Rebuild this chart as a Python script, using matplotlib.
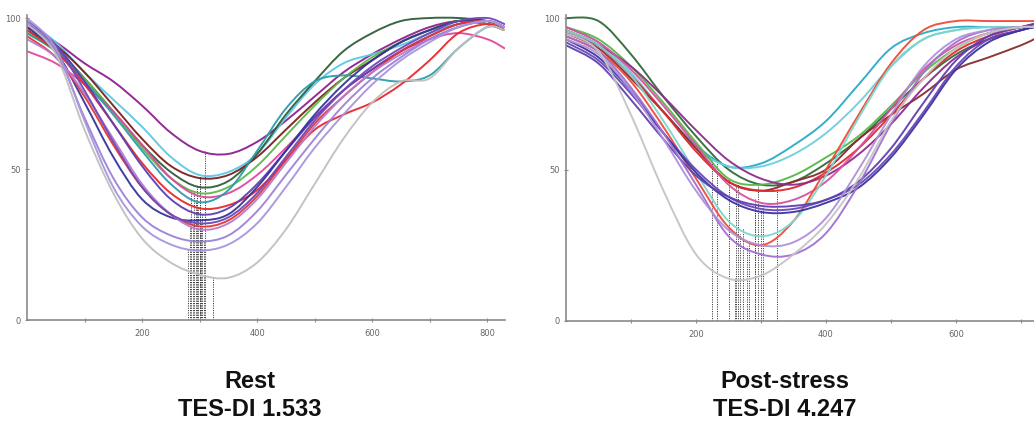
import numpy as np
import matplotlib
matplotlib.use("Agg")
import matplotlib.pyplot as plt
from matplotlib.path import Path
from matplotlib.patches import PathPatch

# ---------------- data ----------------
left_x = [0, 50, 100, 150, 200, 250, 300, 350, 400, 450, 500, 550, 600, 650, 700, 750, 800, 830]
left_colors = ['#8E1E8E', '#5CC8E6', '#2E5E3A', '#7A1F1F', '#5CB848', '#E0489E', '#2A9DAA', '#E8282B',
               '#5B3FB5', '#34349A', '#E53530', '#B77BD0', '#7048B8', '#9C82D6', '#A995DD', '#C0C0C0']
left_curves = [
    [97, 92, 85, 79, 71, 62, 56, 55, 59, 66, 74, 82, 88, 93, 97, 99, 98, 96],
    [99, 92, 82, 73, 64, 54, 48, 49, 55, 67, 78, 85, 88, 91, 95, 98, 99, 97],
    [96, 90, 80, 69, 58, 49, 44, 46, 55, 68, 79, 89, 95, 99, 100, 100, 99, 97],
    [97, 91, 82, 71, 60, 51, 47, 48, 54, 63, 72, 80, 86, 92, 96, 99, 98, 96],
    [95, 89, 80, 69, 57, 47, 42, 44, 51, 61, 71, 80, 87, 92, 96, 99, 98, 96],
    [89, 85, 78, 69, 58, 47, 41, 42, 48, 57, 67, 76, 83, 89, 93, 95, 93, 90],
    [95, 89, 79, 68, 56, 45, 39, 43, 56, 70, 79, 81, 80, 79, 81, 90, 97, 96],
    [96, 89, 78, 65, 52, 42, 37, 38, 43, 53, 63, 68, 72, 78, 86, 95, 98, 96],
    [98, 91, 79, 65, 51, 40, 35, 37, 45, 56, 67, 76, 83, 89, 94, 98, 99, 97],
    [97, 89, 72, 54, 40, 34, 33, 35, 44, 56, 68, 78, 86, 92, 96, 99, 99, 97],
    [94, 87, 74, 58, 44, 35, 31, 33, 41, 53, 65, 74, 82, 89, 94, 98, 99, 97],
    [93, 87, 75, 60, 45, 35, 30, 32, 40, 52, 64, 74, 82, 88, 93, 97, 99, 97],
    [99, 91, 76, 59, 44, 35, 32, 34, 42, 54, 66, 76, 84, 90, 95, 99, 100, 98],
    [99, 89, 67, 47, 34, 28, 26, 28, 36, 48, 60, 71, 80, 87, 93, 97, 99, 97],
    [100, 90, 66, 44, 31, 25, 23, 25, 32, 44, 57, 68, 78, 86, 92, 97, 99, 97],
    [98, 88, 63, 42, 27, 19, 15, 14, 19, 30, 45, 60, 72, 79, 80, 90, 97, 96],
]
left_min_x = [310, 300, 295, 300, 290, 285, 293, 297, 305, 283, 300, 288, 303, 308, 280, 324]

right_x = [0, 50, 100, 150, 200, 250, 300, 350, 400, 450, 500, 550, 600, 650, 700, 720]
right_colors = ['#2E6B3A', '#2AAAC8', '#6CCFE0', '#56B848', '#8A2B2B', '#E0282C', '#8E2A8E', '#D8509E',
                '#F04A3A', '#7DD6CC', '#6A48B8', '#3A34A0', '#5F3FB0', '#A070D0', '#B090D8', '#C4C4C4']
right_curves = [
    [100, 99, 88, 74, 61, 50, 45, 46, 52, 60, 70, 80, 88, 93, 96, 97],
    [96, 91, 81, 69, 58, 51, 52, 58, 66, 78, 90, 95, 97, 97, 97, 97],
    [97, 92, 82, 69, 57, 51, 51, 55, 62, 72, 84, 93, 96, 97, 97, 97],
    [97, 93, 84, 72, 59, 47, 45, 48, 54, 61, 71, 82, 90, 95, 97, 98],
    [95, 90, 80, 69, 57, 46, 43, 46, 50, 60, 68, 75, 83, 87, 91, 93],
    [96, 91, 81, 69, 56, 46, 43, 44, 49, 57, 68, 80, 89, 94, 97, 98],
    [95, 91, 84, 74, 63, 53, 47, 45, 48, 55, 65, 77, 87, 93, 96, 97],
    [97, 92, 83, 71, 58, 45, 39, 40, 46, 57, 70, 83, 91, 95, 97, 97],
    [94, 89, 79, 64, 47, 31, 25, 33, 50, 68, 85, 96, 99, 99, 99, 99],
    [96, 91, 81, 66, 49, 33, 28, 33, 48, 67, 84, 93, 96, 97, 97, 97],
    [92, 86, 75, 62, 50, 41, 37, 37, 40, 45, 55, 69, 84, 93, 96, 97],
    [93, 87, 76, 62, 49, 40, 36, 36, 39, 44, 54, 68, 83, 92, 96, 97],
    [91, 85, 73, 60, 48, 41, 38, 38, 40, 46, 57, 72, 86, 94, 97, 98],
    [94, 89, 77, 62, 45, 28, 22, 22, 29, 45, 65, 82, 92, 96, 97, 97],
    [93, 88, 76, 60, 43, 30, 25, 26, 34, 50, 68, 84, 93, 96, 97, 97],
    [95, 89, 68, 43, 22, 14, 15, 22, 32, 47, 66, 80, 90, 95, 97, 97],
]
right_min_x = [295, 225, 232, 250, 262, 265, 325, 290, 268, 272, 300, 290, 303, 278, 282, 260]

titles = [("Rest", "TES-DI 1.533"), ("Post-stress", "TES-DI 4.247")]
y_ticks = [0, 50, 100]
left_xlim = (0, 831)
right_xlim = (0, 720)

# ---------------- figure ----------------
W, H = 1034, 426
fig = plt.figure(figsize=(W / 100, H / 100), dpi=100)


def make_ax(px_left, px_right, py_top, py_bottom):
    return fig.add_axes([px_left / W, (H - py_bottom) / H,
                         (px_right - px_left) / W, (py_bottom - py_top) / H])


def style(ax, xlim):
    ax.set_xlim(*xlim)
    ax.set_ylim(0, 101)
    for s in ['top', 'right']:
        ax.spines[s].set_visible(False)
    for s in ['left', 'bottom']:
        ax.spines[s].set_color('#8a8a8a')
        ax.spines[s].set_linewidth(1.2)
    ax.set_yticks(y_ticks)
    ax.set_yticklabels(['0', '50', '100'])
    majors = [v for v in [200, 400, 600, 800] if v <= xlim[1]]
    minors = [v for v in [100, 300, 500, 700] if v <= xlim[1]]
    ax.set_xticks(majors)
    ax.set_xticks(minors, minor=True)
    ax.tick_params(axis='both', which='both', direction='inout', length=3,
                   width=0.8, colors='#8a8a8a', labelsize=6, labelcolor='#666666', pad=3)
    ax.tick_params(axis='x', which='major', pad=5)


def smooth_path(xs, ys):
    """Smooth (Catmull-Rom style) Bezier path through the read points."""
    p = np.column_stack([xs, ys]).astype(float)
    n = len(p)
    verts = [p[0]]
    codes = [Path.MOVETO]
    for i in range(n - 1):
        p0 = p[i - 1] if i > 0 else p[i]
        p1, p2 = p[i], p[i + 1]
        p3 = p[i + 2] if i + 2 < n else p[i + 1]
        c1 = p1 + (p2 - p0) / 6.0
        c2 = p2 - (p3 - p1) / 6.0
        verts += [c1, c2, p2]
        codes += [Path.CURVE4] * 3
    return Path(verts, codes)


def draw(ax, xs, curves, colors, min_x):
    for ys, c, mx in zip(curves, colors, min_x):
        ax.add_patch(PathPatch(smooth_path(xs, ys), fill=False, edgecolor=c,
                               lw=1.4, alpha=0.95, capstyle='round', zorder=2))
        top = np.interp(mx, xs, ys)
        ax.plot([mx, mx], [0, top], color='#444444', lw=0.7, ls=(0, (1.2, 1.2)), zorder=1)


ax1 = make_ax(27, 505, 15, 320)
style(ax1, left_xlim)
draw(ax1, left_x, left_curves, left_colors, left_min_x)

ax2 = make_ax(566, 1034, 15, 321)
style(ax2, right_xlim)
draw(ax2, right_x, right_curves, right_colors, right_min_x)

font = ['Liberation Sans', 'DejaVu Sans']
for (t1, t2), cx in zip(titles, [250, 785]):
    fig.text(cx / W, 1 - 382 / H, t1, ha='center', va='center', fontsize=17,
             fontweight='bold', family=font, color='#111111')
    fig.text(cx / W, 1 - 410 / H, t2, ha='center', va='center', fontsize=17,
             fontweight='bold', family=font, color='#111111')

fig.savefig('out.png', dpi=100)
